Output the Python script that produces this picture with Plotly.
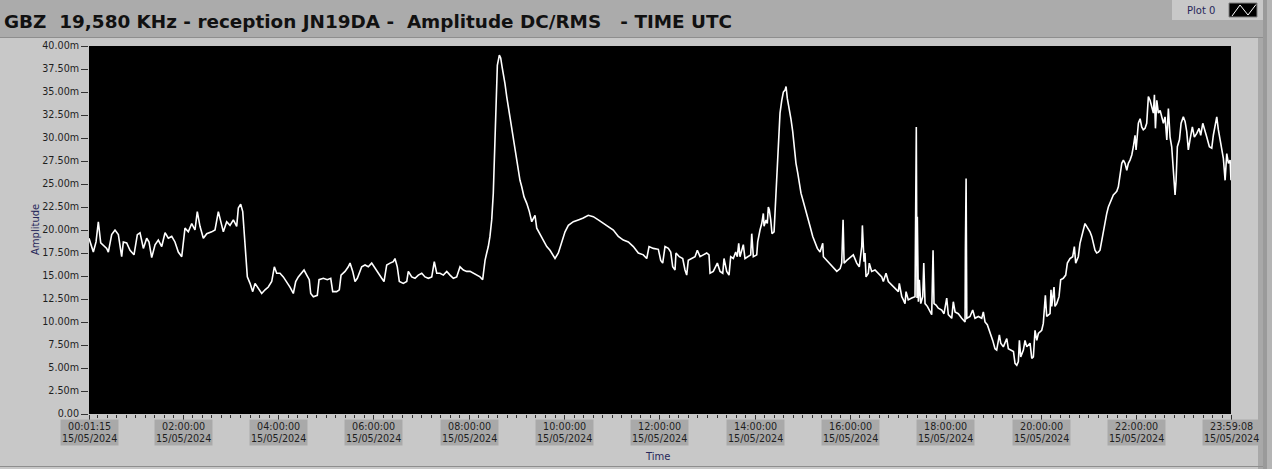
import pandas as pd
import plotly.graph_objects as go

# ---------------- data: (minutes after 00:00 UTC on 15/05/2024, amplitude in mV) ----------------
seg_0000_0335 = [
    (1.25, 19.1), (6.7, 17.6), (10.1, 18.7), (13.0, 20.9), (16.0, 18.6), (19.3, 18.3), (23.5, 18.0),
    (25.6, 17.6), (29.8, 19.5), (34.0, 20.0), (38.2, 19.5), (42.4, 17.1), (44.5, 18.7), (48.7, 18.6),
    (52.9, 17.8), (57.9, 17.3), (62.1, 19.5), (65.5, 19.7), (69.7, 18.0), (73.9, 19.1), (76.8, 18.7),
    (80.2, 17.0), (84.4, 18.4), (88.5, 18.9), (92.8, 18.2), (97.0, 19.7), (101.1, 19.1), (105.4, 19.3),
    (109.5, 18.7), (113.7, 17.6), (118.0, 17.1), (122.1, 20.2), (126.3, 19.8), (130.6, 20.7),
    (134.7, 20.0), (137.6, 22.0), (141.0, 20.4), (145.2, 19.1), (149.5, 19.6), (155.7, 19.8),
    (159.9, 20.0), (164.1, 22.0), (168.3, 20.7), (170.4, 19.8), (174.6, 20.9), (178.8, 20.5),
    (183.0, 21.1), (187.2, 20.4), (189.3, 22.4), (192.2, 22.8), (194.8, 22.0), (196.4, 20.0),
    (198.6, 17.1), (200.6, 14.9), (204.0, 14.2), (207.4, 13.3), (210.3, 14.2), (214.4, 13.7),
]
seg_0335_0820 = [
    (218.7, 13.1), (222.9, 13.5), (227.0, 13.8), (231.3, 14.4), (234.6, 16.0), (237.6, 15.3),
    (241.7, 15.3), (245.9, 14.9), (250.2, 14.4), (254.3, 13.8), (258.5, 13.1), (261.5, 14.4),
    (264.8, 14.9), (269.1, 15.3), (272.0, 15.65), (275.4, 15.1), (278.6, 14.6), (280.4, 13.1),
    (283.7, 12.75), (288.7, 12.9), (290.9, 14.6), (296.3, 14.75), (301.3, 14.6), (305.6, 14.75),
    (308.1, 13.3), (313.1, 13.3), (316.4, 13.5), (318.6, 15.1), (323.6, 15.5), (327.7, 16.0),
    (329.9, 16.4), (333.3, 15.5), (336.2, 14.4), (339.1, 14.75), (344.6, 16.0), (348.8, 16.2),
    (352.9, 16.0), (357.2, 16.4), (361.4, 15.8), (365.5, 15.3), (369.8, 14.75), (372.7, 14.4),
    (376.1, 16.2), (380.3, 16.4), (384.4, 16.55), (386.5, 16.9), (389.4, 16.0), (392.0, 14.4),
    (397.0, 14.2), (401.3, 14.4), (403.3, 15.5), (407.6, 14.9), (411.7, 14.75), (415.9, 15.1),
    (420.2, 15.3), (424.3, 14.9), (428.5, 14.75), (432.8, 14.9), (436.0, 16.55), (439.1, 15.3),
    (443.2, 15.3), (447.4, 15.1), (451.7, 15.5), (455.8, 15.1), (460.0, 14.75), (464.2, 14.9),
    (468.4, 16.0), (472.6, 15.65), (476.8, 15.5), (481.0, 15.5), (485.1, 15.3), (489.4, 15.1),
    (493.6, 14.9), (496.9, 14.6),
]
seg_0820_1205 = [
    (499.9, 16.7), (502.0, 17.5), (504.0, 18.2), (506.1, 19.3), (508.3, 21.1), (510.3, 24.0),
    (512.5, 29.8), (513.7, 35.2), (515.4, 37.9), (517.9, 39.0), (519.6, 38.7), (521.3, 37.75),
    (522.9, 37.0), (525.0, 35.9), (527.2, 34.5), (529.2, 33.4), (531.3, 32.0), (533.5, 30.9),
    (535.5, 29.8), (537.6, 28.7), (539.8, 27.6), (541.8, 26.5), (543.9, 25.4), (546.1, 24.7),
    (549.0, 23.6), (552.4, 22.9), (555.7, 22.0), (558.7, 20.9), (562.8, 21.6), (565.0, 20.2),
    (569.1, 19.6), (573.3, 18.9), (577.6, 18.2), (581.7, 17.8), (585.9, 17.1), (588.0, 16.9),
    (592.2, 17.5), (596.4, 18.55), (600.6, 19.8), (604.8, 20.5), (611.1, 20.9), (617.3, 21.1),
    (623.6, 21.3), (629.9, 21.6), (636.2, 21.45), (642.5, 21.1), (648.8, 20.7), (655.1, 20.4),
    (661.4, 20.0), (667.7, 19.3), (674.0, 18.9), (680.3, 18.7), (686.6, 18.2), (692.9, 17.5),
    (699.2, 17.3), (703.5, 16.9), (706.4, 18.2), (711.8, 18.0), (718.1, 17.9), (721.1, 16.7),
    (723.6, 16.4),
]
seg_1205_1555 = [
    (726.5, 18.2), (730.7, 18.0), (733.7, 17.6), (736.2, 16.0), (739.1, 15.65), (740.3, 17.5),
    (744.5, 17.1), (748.8, 16.9), (751.7, 15.65), (753.8, 15.1), (755.8, 16.7), (760.1, 16.9),
    (764.3, 17.1), (767.2, 17.8), (770.6, 17.1), (774.7, 17.3), (779.0, 17.5), (781.9, 17.3),
    (783.2, 15.3), (787.3, 15.5), (792.4, 16.4), (795.8, 15.5), (799.2, 15.3), (800.8, 16.9),
    (804.2, 15.5), (807.1, 15.1), (809.2, 17.1), (812.5, 16.9), (815.5, 17.6), (817.5, 17.1),
    (819.3, 18.55), (820.9, 17.1), (825.1, 18.4), (827.2, 16.9), (831.4, 17.1), (834.4, 17.3),
    (835.7, 19.6), (837.7, 17.1), (842.0, 17.3), (843.2, 18.7), (846.1, 20.0), (848.3, 20.7),
    (850.3, 21.8), (851.2, 20.4), (853.7, 21.1), (855.3, 20.7), (856.6, 22.5), (857.8, 22.2),
    (859.6, 21.1), (861.2, 19.6), (863.8, 19.8), (865.4, 22.9), (867.2, 24.9), (869.2, 28.7),
    (871.3, 32.7), (873.5, 34.1), (875.5, 35.0), (877.6, 35.2), (878.9, 35.6), (880.5, 34.3),
    (883.0, 33.2), (885.2, 32.0), (887.3, 30.7), (889.3, 28.7), (891.4, 27.25), (893.6, 26.2),
    (895.6, 25.1), (897.7, 24.0), (900.6, 23.1), (903.7, 22.2), (906.2, 21.45), (909.1, 20.4),
    (912.5, 19.3), (915.4, 18.55), (918.3, 18.0), (921.7, 17.6), (925.1, 18.55), (925.9, 17.1),
    (930.2, 16.7), (934.4, 16.2), (938.6, 15.8), (942.8, 15.5), (947.0, 15.8), (949.0, 16.4),
    (950.7, 21.1), (952.0, 16.4), (955.3, 16.7),
]
seg_1555_2010 = [
    (963.6, 17.3), (967.9, 16.4), (971.1, 16.0), (974.2, 18.2), (975.0, 20.5), (977.1, 16.55),
    (978.3, 17.5), (979.6, 14.9), (982.5, 15.3), (983.7, 16.4), (986.7, 15.5), (990.9, 15.65),
    (995.1, 15.3), (999.4, 14.9), (1001.4, 14.4), (1004.8, 15.3), (1007.7, 14.4), (1012.0, 14.0),
    (1016.1, 13.7), (1020.3, 13.3), (1021.5, 14.2), (1024.6, 12.75), (1026.6, 12.4), (1028.7, 12.0),
    (1030.0, 13.3), (1032.8, 12.4), (1037.1, 12.6), (1041.3, 12.75), (1042.9, 31.2), (1043.8, 12.6),
    (1044.2, 21.45), (1045.5, 12.2), (1046.7, 14.6), (1048.5, 12.0), (1051.0, 12.75), (1052.3, 16.4),
    (1053.9, 12.0), (1056.8, 11.7), (1060.2, 11.1), (1062.3, 10.8), (1064.0, 17.8), (1065.2, 12.0),
    (1067.8, 11.85), (1070.6, 11.5), (1074.9, 11.3), (1077.8, 10.9), (1081.2, 12.6), (1083.2, 10.8),
    (1087.5, 10.4), (1089.5, 12.2), (1091.7, 11.1), (1095.8, 10.9), (1100.1, 10.4), (1104.3, 10.0),
    (1104.7, 17.8), (1105.6, 25.6), (1106.5, 10.4), (1110.5, 10.6), (1113.9, 11.3), (1116.8, 10.4),
    (1121.0, 10.6), (1125.3, 10.4), (1127.3, 11.1), (1129.4, 10.0), (1132.3, 9.7), (1135.7, 8.95),
    (1139.1, 8.0), (1142.0, 7.1), (1144.1, 6.95), (1147.5, 8.6), (1149.2, 7.7), (1152.5, 7.3),
    (1156.8, 8.2), (1158.8, 7.1), (1163.1, 6.95), (1165.2, 6.8), (1167.2, 5.5), (1169.4, 5.3),
    (1171.4, 5.7), (1172.7, 8.0), (1174.4, 6.2), (1177.7, 6.95), (1179.8, 8.0), (1182.0, 7.3),
    (1186.1, 7.7), (1188.3, 6.05), (1190.3, 6.2), (1192.4, 9.1), (1194.6, 8.0), (1196.6, 8.75),
    (1200.8, 9.1), (1202.8, 9.85), (1205.4, 12.9), (1207.1, 10.6), (1211.3, 10.9),
]
seg_2010_2359 = [
    (1212.5, 13.5), (1213.4, 11.7), (1216.3, 13.8), (1217.5, 11.7), (1219.7, 12.0), (1222.6, 12.75),
    (1224.7, 14.6), (1228.0, 14.75), (1231.0, 15.1), (1233.1, 16.4), (1236.4, 16.9), (1239.8, 17.1),
    (1241.9, 18.2), (1243.6, 16.4), (1246.9, 17.1), (1249.0, 18.55), (1251.2, 19.5), (1253.2, 20.0),
    (1255.3, 20.7), (1257.5, 20.4), (1259.5, 20.2), (1261.6, 19.8), (1263.8, 19.3), (1265.8, 18.55),
    (1267.9, 17.8), (1270.0, 17.5), (1272.1, 17.6), (1274.2, 17.8), (1276.3, 18.9), (1278.4, 20.0),
    (1280.5, 20.7), (1282.7, 21.8), (1284.7, 22.5), (1286.8, 22.9), (1289.0, 23.45), (1291.0, 23.8),
    (1293.1, 24.0), (1295.3, 24.2), (1297.3, 24.7), (1299.4, 25.8), (1301.6, 27.25), (1303.6, 27.6),
    (1305.7, 27.25), (1307.9, 26.5), (1309.9, 27.25), (1312.0, 27.6), (1314.2, 28.15), (1316.2, 29.05),
    (1318.3, 30.3), (1319.6, 28.7), (1321.2, 30.1), (1322.5, 31.6), (1324.7, 32.1), (1326.7, 31.2),
    (1328.7, 30.9), (1330.9, 31.05), (1333.0, 31.6), (1335.1, 34.5), (1337.2, 34.1), (1339.3, 33.4),
    (1341.4, 32.7), (1342.7, 34.7), (1344.0, 31.05), (1345.7, 34.1), (1347.7, 32.7), (1349.9, 33.0),
    (1352.0, 32.1), (1354.0, 31.6), (1356.1, 32.3), (1358.3, 29.8), (1360.3, 33.2), (1362.4, 30.1),
    (1364.5, 29.05), (1366.6, 26.9), (1368.7, 23.8), (1370.0, 25.4), (1371.6, 29.05), (1374.2, 29.8),
    (1376.3, 31.6), (1379.1, 32.3), (1381.3, 31.8), (1383.4, 30.7), (1385.4, 28.7), (1387.5, 29.8),
    (1390.5, 31.2), (1393.0, 30.1), (1396.0, 30.5), (1398.9, 31.05), (1401.0, 30.3), (1403.6, 31.6),
    (1405.6, 30.9), (1408.6, 30.1), (1411.9, 29.05), (1414.9, 28.9), (1416.9, 30.3), (1419.1, 31.6),
    (1421.2, 32.3), (1423.2, 30.9), (1425.4, 29.95), (1427.5, 29.05), (1429.5, 27.8), (1431.7, 25.4),
    (1433.8, 28.3), (1435.9, 27.25), (1438.0, 27.6), (1439.1, 25.4),
]

xtick_times = ["00:01:15", "02:00:00", "04:00:00", "06:00:00", "08:00:00", "10:00:00", "12:00:00",
               "14:00:00", "16:00:00", "18:00:00", "20:00:00", "22:00:00", "23:59:08"]
xtick_date = "15/05/2024"
ytick_vals = [0, 2.5, 5, 7.5, 10, 12.5, 15, 17.5, 20, 22.5, 25, 27.5, 30, 32.5, 35, 37.5, 40]
ytick_text = ["0.00", "2.50m", "5.00m", "7.50m", "10.00m", "12.50m", "15.00m", "17.50m", "20.00m",
              "22.50m", "25.00m", "27.50m", "30.00m", "32.50m", "35.00m", "37.50m", "40.00m"]
title_text = "GBZ  19,580 KHz - reception JN19DA -  Amplitude DC/RMS   - TIME UTC"

# ---------------- build ----------------
segments = [seg_0000_0335, seg_0335_0820, seg_0820_1205, seg_1205_1555, seg_1555_2010, seg_2010_2359]
points = [p for seg in segments for p in seg]
t_min = [p[0] for p in points]
amp_mV = [p[1] for p in points]

day = pd.Timestamp("2024-05-15")
times = day + pd.to_timedelta(t_min, unit="min")
x_ticks = [f"2024-05-15 {t}" for t in xtick_times]

W, H = 1272, 469
L, R, T, B = 89, 41, 46, 55
PW, PH = W - L - R, H - T - B


def px(xp):
    return (xp - L) / PW


def py(yp):
    return (H - B - yp) / PH


PANEL = "#c8c8c8"
TXT = "#1e1e1e"
NAVY = "#27275a"
FONT = "DejaVu Sans"

fig = go.Figure()
fig.add_trace(go.Scatter(
    x=times, y=amp_mV, mode="lines", name="Plot 0",
    line=dict(color="white", width=1.6), showlegend=False, hoverinfo="skip",
))

shapes = [
    # title bar
    dict(type="rect", xref="paper", yref="paper", x0=px(-2), x1=px(W + 2), y0=py(37), y1=py(-2),
         fillcolor="#ababab", line=dict(width=0), layer="below"),
    dict(type="line", xref="paper", yref="paper", x0=px(0), x1=px(W), y0=py(37.5), y1=py(37.5),
         line=dict(color="#8e8e8e", width=1)),
    # legend box
    dict(type="rect", xref="paper", yref="paper", x0=px(1172), x1=px(1263), y0=py(20), y1=py(-2),
         fillcolor=PANEL, line=dict(width=0)),
    dict(type="rect", xref="paper", yref="paper", x0=px(1229), x1=px(1257), y0=py(17), y1=py(3),
         fillcolor="black", line=dict(color="#808080", width=1)),
    dict(type="path", xref="paper", yref="paper",
         path=f"M {px(1232)} {py(16)} L {px(1240)} {py(5)} L {px(1248)} {py(15)} L {px(1256)} {py(4.5)}",
         line=dict(color="white", width=1)),
    # right edge strips
    dict(type="rect", xref="paper", yref="paper", x0=px(1258), x1=px(1263), y0=py(H + 2), y1=py(38),
         fillcolor="#a8a8a8", line=dict(width=0)),
    dict(type="rect", xref="paper", yref="paper", x0=px(1263), x1=px(1267), y0=py(H + 2), y1=py(-2),
         fillcolor="#9a9a9a", line=dict(width=0)),
    dict(type="rect", xref="paper", yref="paper", x0=px(1267), x1=px(W + 2), y0=py(H + 2), y1=py(-2),
         fillcolor="#b4b4b4", line=dict(width=0)),
    # bottom edge
    dict(type="line", xref="paper", yref="paper", x0=px(0), x1=px(1263), y0=py(466.5), y1=py(466.5),
         line=dict(color="#8e8e8e", width=1)),
]

annotations = [
    dict(text=f"<b>{title_text}</b>", xref="paper", yref="paper", x=px(2), y=py(22),
         xanchor="left", yanchor="middle", showarrow=False,
         font=dict(family=FONT, size=18.4, color="#111111")),
    dict(text="Plot 0", xref="paper", yref="paper", x=px(1201), y=py(10),
         xanchor="center", yanchor="middle", showarrow=False,
         font=dict(family=FONT, size=10, color=NAVY)),
    dict(text="Amplitude", xref="paper", yref="paper", x=px(35), y=py(230), textangle=-90,
         xanchor="center", yanchor="middle", showarrow=False,
         font=dict(family=FONT, size=10, color=NAVY)),
    dict(text="Time", xref="paper", yref="paper", x=px(657), y=py(456),
         xanchor="center", yanchor="middle", showarrow=False,
         font=dict(family=FONT, size=10, color=NAVY)),
]
for tv, tl in zip(x_ticks, xtick_times):
    annotations.append(dict(
        text=f"{tl}<br>{xtick_date}", xref="x", yref="paper", x=tv, y=py(432),
        xanchor="center", yanchor="middle", showarrow=False, bgcolor="#a9a9a9", borderpad=1,
        font=dict(family=FONT, size=9.6, color=TXT),
    ))

fig.update_layout(
    width=W, height=H, autosize=False,
    margin=dict(l=L, r=R, t=T, b=B, pad=0),
    paper_bgcolor=PANEL, plot_bgcolor="black",
    shapes=shapes, annotations=annotations,
    showlegend=False,
)
fig.update_xaxes(
    type="date", range=["2024-05-15 00:01:15", "2024-05-15 23:59:08"],
    showgrid=False, zeroline=False, showline=False, showticklabels=False,
    tickmode="array", tickvals=x_ticks, ticks="outside", ticklen=5, tickwidth=1, tickcolor="#333333",
    minor=dict(dtick=12 * 60 * 1000, tick0="2024-05-15 00:00:00", ticks="outside", ticklen=3,
               tickwidth=1, tickcolor="#333333", showgrid=False),
)
fig.update_yaxes(
    range=[0, 40], showgrid=False, zeroline=False, showline=False,
    tickmode="array", tickvals=ytick_vals, ticktext=ytick_text,
    ticks="outside", ticklen=7, tickwidth=1, tickcolor="#333333",
    tickfont=dict(family=FONT, size=9.6, color=TXT),
)

fig.write_html(
    "out.html",
    config={"displayModeBar": False},
    post_script="document.body.style.margin='0';document.body.style.padding='0';"
                "document.body.style.background='#c8c8c8';",
)
